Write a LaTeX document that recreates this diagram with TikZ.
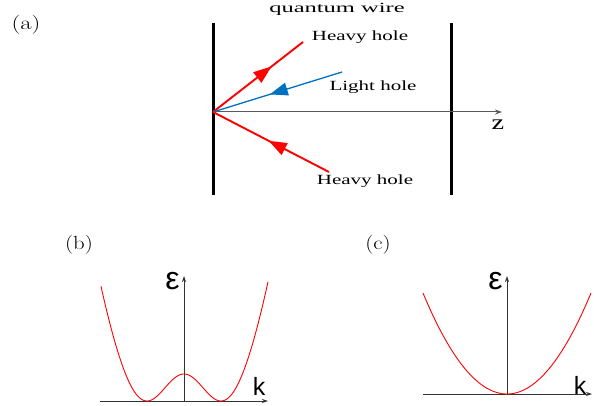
\documentclass[tikz,border=0pt]{standalone}
\usepackage{fontspec}
\newfontfamily\timesf{Liberation Serif}
\newfontfamily\arialf{Liberation Sans}
\usetikzlibrary{arrows.meta,decorations.markings}
\definecolor{hblue}{RGB}{0,112,192}
\definecolor{hred}{RGB}{255,0,0}
\definecolor{axgray}{RGB}{90,90,90}
\newcommand{\sxt}[2]{\scalebox{#1}[1]{#2}}
\tikzset{
  wall/.style={line width=3pt,black},
  hhline/.style={line width=1.9pt,hred},
  lhline/.style={line width=1.3pt,hblue},
  midarrow/.style={decoration={markings,mark=at position #1 with {\arrow{Triangle[length=18pt,width=13pt]}}},postaction=decorate},
  zaxis/.style={line width=1pt,axgray,-{Stealth[length=7pt,width=5pt]}},
  plotaxis/.style={line width=0.8pt,black!80,-{Stealth[length=6pt,width=4pt]}},
  band/.style={line width=0.9pt,hred},
  wtext/.style={font=\timesf\fontsize{14}{16}\selectfont,inner sep=0pt},
  plabel/.style={font=\fontsize{19}{21}\selectfont,inner sep=0pt},
  eps/.style={font=\arialf\fontsize{32}{34}\selectfont,inner sep=0pt},
  kl/.style={font=\arialf\fontsize{25}{27}\selectfont,inner sep=0pt}
}
\begin{document}
\begin{tikzpicture}[x=1pt,y=-1pt]
\useasboundingbox (0,0) rectangle (594,406);
% ---- panel (a)
\node[plabel] (la) at (26,25) {\sxt{1.3}{(a)}};
\node[wtext] (qw) at (337,9) {\sxt{1.75}{quantum wire}};
\coordinate (wlt) at (213,23); \coordinate (wlb) at (213,195);
\coordinate (wrt) at (451,23); \coordinate (wrb) at (451,195);
\draw[wall] (wlt) -- (wlb);
\draw[wall] (wrt) -- (wrb);
\coordinate (O) at (213,112);
\coordinate (zend) at (502,112);
\draw[zaxis] (O) -- (zend);
\node[font=\timesf\fontsize{21}{23}\selectfont,inner sep=0pt] (z) at (498,125) {\sxt{1.35}{z}};
\coordinate (hh1) at (303,42);
\coordinate (lh) at (342,72);
\coordinate (hh2) at (329,172);
\draw[hhline,midarrow=0.65] (O) -- (hh1);
\draw[lhline,midarrow=0.56] (lh) -- (O);
\draw[hhline,midarrow=0.52] (hh2) -- (O);
\node[wtext] (thh1) at (360,37) {\sxt{1.5}{Heavy hole}};
\node[wtext] (tlh) at (373,87) {\sxt{1.5}{Light hole}};
\node[wtext] (thh2) at (365,181) {\sxt{1.5}{Heavy hole}};
% ---- panel (b)
\node[plabel] (lb) at (79,245) {\sxt{1.2}{(b)}};
\coordinate (bx0) at (100,401); \coordinate (bx1) at (268,401);
\coordinate (by0) at (184,402); \coordinate (by1) at (184,276);
\draw[plotaxis] (bx0) -- (bx1);
\draw[plotaxis] (by0) -- (by1);
\draw[band] plot[domain=-83:84,samples=160,smooth] ({184+\x},{401-(0.02746*(\x)*(\x)+102.2*exp(-(\x)*(\x)/1369)-75.2)});
\node[eps] (eb) at (172.5,281) {ε};
\node[kl] (kb) at (259,386) {k};
% ---- panel (c)
\node[plabel] (lc) at (378,245) {\sxt{1.2}{(c)}};
\coordinate (cx0) at (423,394); \coordinate (cx1) at (592,394);
\coordinate (cy0) at (507,395); \coordinate (cy1) at (507,276);
\draw[plotaxis] (cx0) -- (cx1);
\draw[plotaxis] (cy0) -- (cy1);
\draw[band] plot[domain=-84:84,samples=120,smooth] ({507+\x},{394-0.01431*(\x)*(\x)});
\node[eps] (ec) at (495.5,281) {ε};
\node[kl] (kc) at (580,385) {k};
\end{tikzpicture}
\end{document}
